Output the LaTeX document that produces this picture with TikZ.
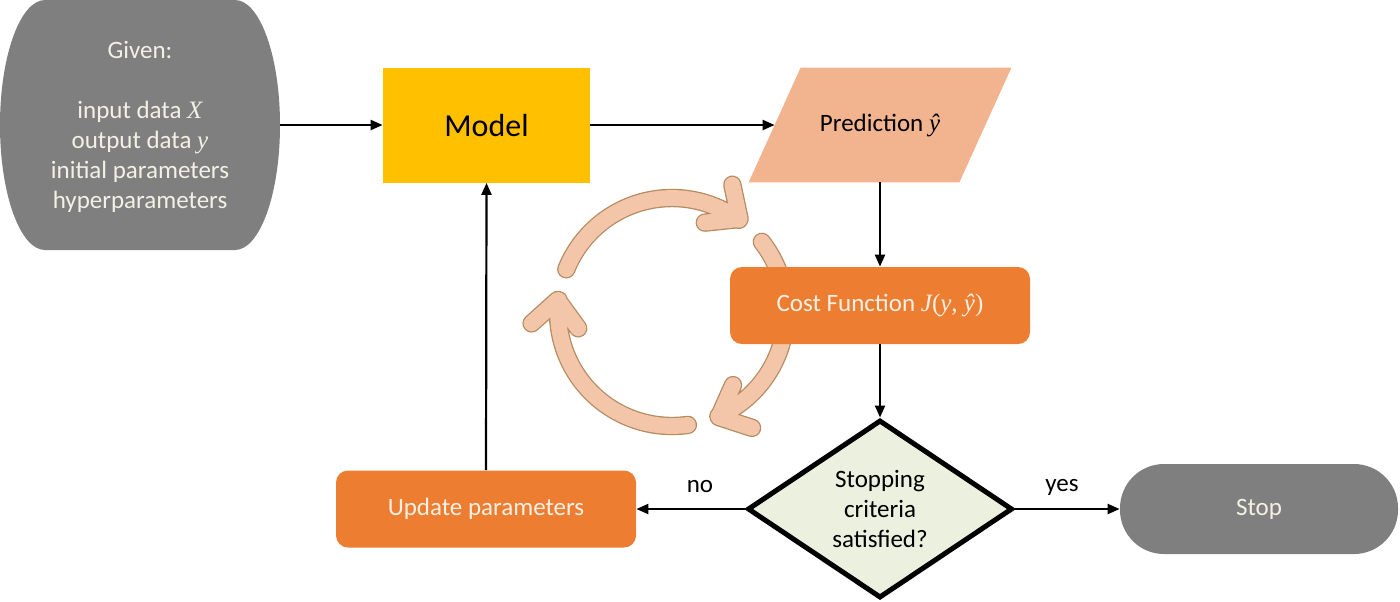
\documentclass[tikz,border=0pt]{standalone}
\usepackage{fontspec}
\setmainfont{Carlito}
\newfontfamily\mfont{Liberation Serif}
\newcommand\mv[1]{{\mfont\itshape #1}}
\usetikzlibrary{arrows.meta,shapes.geometric,calc,backgrounds}
\definecolor{grayfill}{HTML}{7F7F7F}
\definecolor{gold}{HTML}{FFC000}
\definecolor{peach}{HTML}{F2B38F}
\definecolor{orangefill}{HTML}{ED7D31}
\definecolor{greenfill}{HTML}{EBF1DE}
\definecolor{cream}{HTML}{F3F1E6}
\definecolor{cycfill}{HTML}{F3C6AA}
\definecolor{cycline}{HTML}{B58C62}
\newcommand\cycleshape{%
 (672,312) ++(202:114) arc[start angle=202,end angle=306,radius=114]
 (672,312) ++(306:115) ++(174:35) -- ++(354:35) -- ++(258:35)
 (672,312) ++(322:114) arc[start angle=322,end angle=426,radius=114]
 (672,312) ++(426:115) ++(294:35) -- ++(114:35) -- ++(18:35)
 (672,312) ++(82:114) arc[start angle=82,end angle=186,radius=114]
 (672,312) ++(186:115) ++(54:35) -- ++(234:35) -- ++(138:35)}
\begin{document}
\begin{tikzpicture}[x=0.5pt,y=-0.5pt,
  txt/.style={font=\fontsize{12.5}{15}\selectfont, align=center},
  conn/.style={draw=black, line width=1.1pt, -{Triangle[length=6pt,width=5pt]}},
  obox/.style={fill=orangefill, rounded corners=6pt, txt, text=cream}
]
\useasboundingbox (0,0) rectangle (1400,601);

% cycle arrows (behind)
\draw[cycline, line width=9.2pt, line cap=round, line join=round] \cycleshape;
\draw[cycfill, line width=7.9pt, line cap=round, line join=round] \cycleshape;

% nodes
\node[minimum width=140pt, minimum height=125pt, inner sep=0pt, txt, text=cream] (given) at (140,127)
  {Given:\\[15pt]input data \mv{X}\\output data \mv{y}\\initial parameters\\hyperparameters};
\node[fill=gold, minimum width=103.5pt, minimum height=57.5pt, font=\fontsize{16}{19}\selectfont] (model) at (486.5,125) {Model};
\node[minimum width=105pt, minimum height=57pt, txt] (pred) at (880,125) {Prediction \mv{ŷ}};
\node[obox, minimum width=150pt, minimum height=38.5pt] (cost) at (880,305.5) {Cost Function \mv{J}{\mfont(}\mv{y}{\mfont, }\mv{ŷ}{\mfont)}};
\node[diamond, draw=black, line width=2.5pt, fill=greenfill, minimum width=132.5pt, minimum height=89pt, inner sep=0pt, txt] (dec) at (880,509) {Stopping\\criteria\\satisfied?};
\node[obox, minimum width=150pt, minimum height=38.5pt] (upd) at (486,509) {Update parameters};
\node[fill=grayfill, rounded corners=22pt, minimum width=139pt, minimum height=45pt, txt, text=cream] (stop) at (1259,509) {Stop};
\node[txt] (nolab) at (700,487) {no};
\node[txt] (yeslab) at (1062,487) {yes};

\begin{pgfonlayer}{background}
\fill[grayfill] (45,0) -- (235,0) .. controls (259.8,0) and (280,56) .. (280,125)
  .. controls (280,194) and (259.8,250) .. (235,250) -- (45,250)
  .. controls (20.2,250) and (0,194) .. (0,125) .. controls (0,56) and (20.2,0) .. (45,0) -- cycle;
\fill[peach] ($(pred.north west)+(26,0)$) -- ($(pred.north east)+(26,0)$)
  -- ($(pred.south east)+(-26,0)$) -- ($(pred.south west)+(-26,0)$) -- cycle;
\end{pgfonlayer}

% connectors
\draw[conn] (given.east |- model.west) -- (model.west);
\draw[conn] (model.east) -- (pred.west);
\draw[conn] (pred.south) -- (cost.north);
\draw[conn] (cost.south) -- (dec.north);
\draw[conn] (dec.west) -- (upd.east);
\draw[conn] (dec.east) -- (stop.west);
\draw[conn] (upd.north) -- (model.south);
\end{tikzpicture}
\end{document}
